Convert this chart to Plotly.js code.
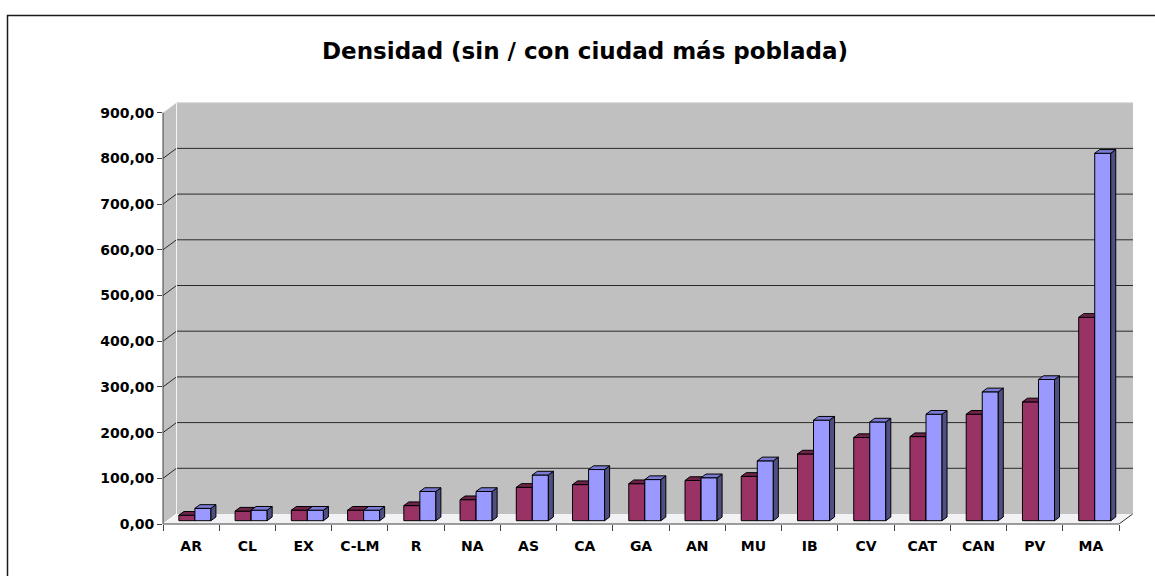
<!DOCTYPE html>
<html>
<head>
<meta charset="utf-8">
<script src="https://cdn.plot.ly/plotly-3.0.1.min.js"></script>
<style>html,body{margin:0;padding:0;background:#fff;}#chart{width:1155px;height:576px;}</style>
</head>
<body>
<div id="chart"></div>
<script>
// ---- data ----
const categories = ['AR','CL','EX','C-LM','R','NA','AS','CA','GA','AN','MU','IB','CV','CAT','CAN','PV','MA'];
const sinCiudad = [12, 21, 23, 23, 33, 46, 73, 79, 81, 88, 97, 146, 182, 184, 233, 260, 445];
const conCiudad = [27, 23, 23, 23, 64, 64, 100, 112, 90, 94, 131, 220, 216, 233, 282, 309, 804];
const yTickVals = [0, 100, 200, 300, 400, 500, 600, 700, 800, 900];
const yTickText = ['0,00','100,00','200,00','300,00','400,00','500,00','600,00','700,00','800,00','900,00'];
const titleText = 'Densidad (sin / con ciudad más poblada)';

// ---- geometry / style ----
const W = 1155, H = 576;
const M = {l: 163, r: 22, t: 100, b: 52};
const plotW = W - M.l - M.r, plotH = H - M.t - M.b;
const pxPerCat = 56.24, pxPerUnit = 0.457;
const nCat = categories.length;
const xr = [-0.5, -0.5 + plotW / pxPerCat];
const yr = [0, plotH / pxPerUnit];
const ux = p => p / pxPerCat, uy = p => p / pxPerUnit;
const WDX = ux(13.5), WDY = uy(10);      // wall depth
const BASE = uy(3.3);                    // bar plane above front floor
const BDX = ux(5), BDY = uy(3.7);        // bar depth
const BW = 0.285, OFF_R = -0.218, OFF_B = 0.067;
const idx = categories.map((c, i) => i);
const yTop = 900;
const xL = -0.5, xRf = nCat - 0.5;
const FONT = 'DejaVu Sans';

function faces(vals, off, wantSide) {
  const X = [], Y = [], SX = [], SY = [];
  vals.forEach((v, i) => {
    const x0 = i + off, x1 = x0 + BW, b = BASE, t = BASE + v;
    X.push(x0, x1, x1 + BDX, x0 + BDX, x0, null);
    Y.push(t, t, t + BDY, t + BDY, t, null);
    if (wantSide) {
      SX.push(x1, x1, x1 + BDX, x1 + BDX, x1, null);
      SY.push(b, t, t + BDY, b + BDY, b, null);
    }
  });
  return {X, Y, SX, SY};
}

const fr = faces(sinCiudad, OFF_R, true);
const fb = faces(conCiudad, OFF_B, true);

const poly = (x, y, fill, xa, ya) => ({
  type: 'scatter', mode: 'lines', x: x, y: y, fill: 'toself', fillcolor: fill,
  line: {color: '#000', width: 1}, hoverinfo: 'skip', showlegend: false,
  xaxis: xa, yaxis: ya
});

const data = [
  {type: 'bar', name: 'sin', x: idx, y: sinCiudad, base: BASE, offset: OFF_R, width: BW,
   marker: {color: '#993366', line: {color: '#000', width: 1}}, xaxis: 'x', yaxis: 'y'},
  poly(fr.SX, fr.SY, '#4d1a33', 'x', 'y'),
  poly(fr.X, fr.Y, '#6e2449', 'x', 'y'),
  {type: 'bar', name: 'con', x: idx, y: conCiudad, base: BASE, offset: OFF_B, width: BW,
   marker: {color: '#9999ff', line: {color: '#000', width: 1}}, xaxis: 'x2', yaxis: 'y2'},
  poly(fb.SX, fb.SY, '#4f4f82', 'x2', 'y2'),
  poly(fb.X, fb.Y, '#7b7bd6', 'x2', 'y2')
];

const shapes = [];
// walls and floor
shapes.push({type: 'path', xref: 'x', yref: 'y', layer: 'below', line: {width: 0}, fillcolor: '#c0c0c0',
  path: `M${xL+WDX},${WDY} L${xr[1]},${WDY} L${xr[1]},${yTop+WDY} L${xL+WDX},${yTop+WDY} Z`});
shapes.push({type: 'path', xref: 'x', yref: 'y', layer: 'below', line: {width: 0}, fillcolor: '#c0c0c0',
  path: `M${xL},0 L${xL},${yTop} L${xL+WDX},${yTop+WDY} L${xL+WDX},${WDY} Z`});
shapes.push({type: 'path', xref: 'x', yref: 'y', layer: 'below', line: {width: 0}, fillcolor: '#f2f2f5',
  path: `M${xL},0 L${xRf},0 L${xRf+WDX},${WDY} L${xL+WDX},${WDY} Z`});
// gridlines on back wall and side wall
yTickVals.forEach(v => {
  if (v === 0 || v === yTop) return;
  shapes.push({type: 'line', xref: 'x', yref: 'y', layer: 'below', line: {color: '#2a2a2a', width: 1},
    x0: xL + WDX, x1: xr[1], y0: v + WDY, y1: v + WDY});
  shapes.push({type: 'line', xref: 'x', yref: 'y', layer: 'below', line: {color: '#2a2a2a', width: 1},
    x0: xL, x1: xL + WDX, y0: v, y1: v + WDY});
});
// light edges
shapes.push({type: 'line', xref: 'x', yref: 'y', layer: 'below', line: {color: '#f4f4f4', width: 1},
  x0: xL + WDX, x1: xL + WDX, y0: WDY, y1: yTop + WDY});
shapes.push({type: 'line', xref: 'x', yref: 'y', layer: 'below', line: {color: '#e6e6e6', width: 1},
  x0: xL, x1: xL + WDX, y0: yTop, y1: yTop + WDY});
shapes.push({type: 'line', xref: 'x', yref: 'y', layer: 'below', line: {color: '#d8d8d8', width: 1},
  x0: xL + WDX, x1: xr[1], y0: yTop + WDY, y1: yTop + WDY});
shapes.push({type: 'line', xref: 'x', yref: 'y', layer: 'below', line: {color: '#ffffff', width: 1},
  x0: xL, x1: xL + WDX, y0: 0, y1: WDY});
shapes.push({type: 'line', xref: 'x', yref: 'y', layer: 'below', line: {color: '#333', width: 1},
  x0: xRf, x1: xRf + WDX, y0: 0, y1: WDY});
// front axis lines
shapes.push({type: 'line', xref: 'paper', yref: 'y', layer: 'above', line: {color: '#404040', width: 1},
  x0: 0, x1: 0, y0: 0, y1: yTop});
shapes.push({type: 'line', xref: 'x', yref: 'paper', layer: 'above', line: {color: '#404040', width: 1},
  x0: xL, x1: xRf, y0: 0, y1: 0});
// outer chart border
shapes.push({type: 'rect', xref: 'paper', yref: 'paper', layer: 'above', line: {color: '#1a1a1a', width: 1.5},
  fillcolor: 'rgba(0,0,0,0)',
  x0: (7.5 - M.l) / plotW, x1: (W + 10 - M.l) / plotW,
  y0: (M.t + plotH - (H + 10)) / plotH, y1: (M.t + plotH - 15.5) / plotH});

const bounds = [];
for (let i = 0; i <= nCat; i++) bounds.push(i - 0.5);

const tickFont = {family: FONT, size: 14, color: '#000', weight: 'bold'};
const layout = {
  width: W, height: H, margin: M,
  paper_bgcolor: '#ffffff', plot_bgcolor: 'rgba(0,0,0,0)',
  showlegend: false, barmode: 'overlay',
  title: {text: titleText, x: 585 / W, xanchor: 'center', y: 1 - 51 / H, yanchor: 'middle',
    yref: 'container', xref: 'container',
    font: {family: FONT, size: 23, color: '#000', weight: 'bold'}},
  xaxis: {range: xr, tickvals: bounds, showticklabels: false, ticks: 'outside', ticklen: 6,
    tickcolor: '#404040', tickwidth: 1, showgrid: false, zeroline: false, showline: false, fixedrange: true},
  xaxis2: {range: xr, overlaying: 'x', side: 'bottom', tickvals: idx, ticktext: categories,
    ticks: 'outside', ticklen: 9, tickcolor: 'rgba(0,0,0,0)', showgrid: false, zeroline: false,
    showline: false, tickfont: tickFont, fixedrange: true},
  yaxis: {range: yr, tickvals: yTickVals, ticktext: yTickText, ticks: 'outside', ticklen: 5,
    tickcolor: '#404040', tickwidth: 1, showgrid: false, zeroline: false, showline: false,
    tickfont: tickFont, fixedrange: true},
  yaxis2: {range: yr, overlaying: 'y', visible: false, fixedrange: true},
  shapes: shapes
};

Plotly.newPlot('chart', data, layout, {displayModeBar: false, staticPlot: true});
</script>
</body>
</html>
